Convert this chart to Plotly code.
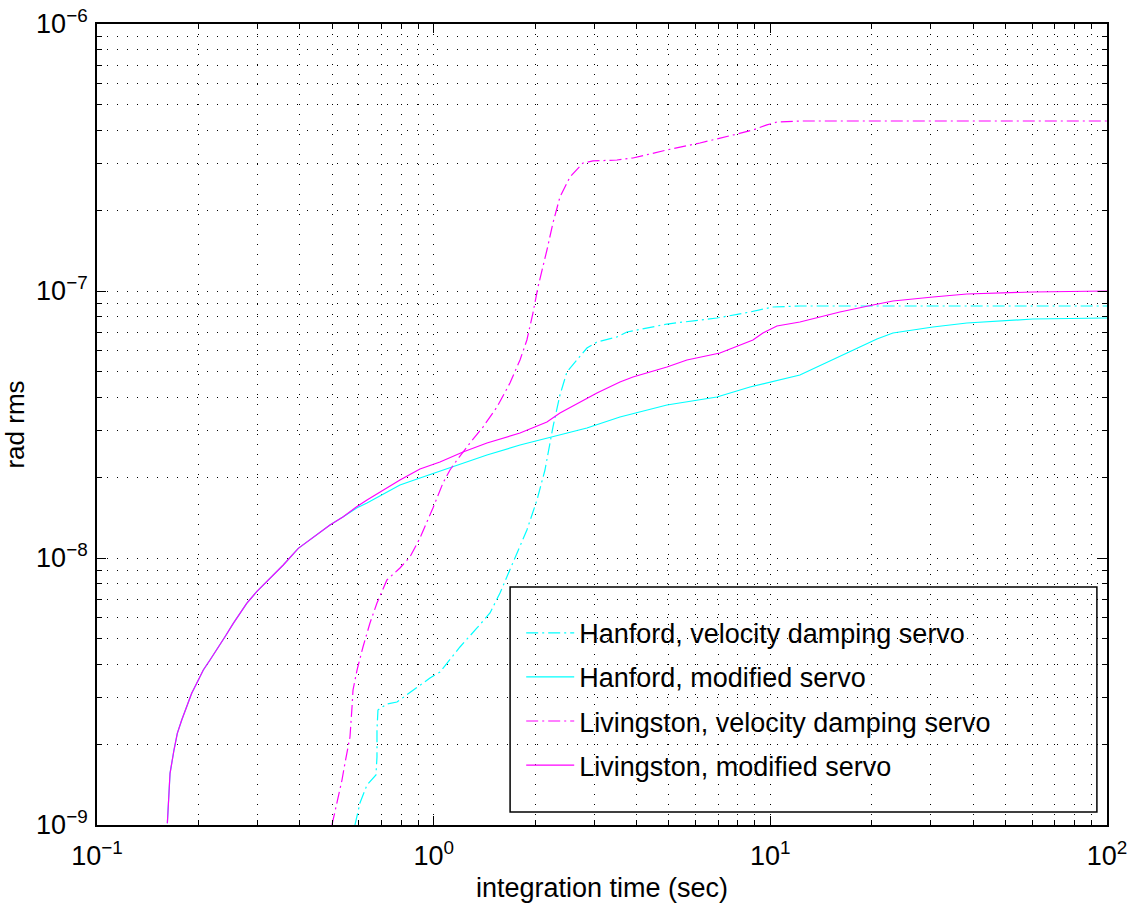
import plotly.graph_objects as go

# ---------------- data ----------------
lm_x = [0.1618, 0.1648, 0.1693, 0.1732, 0.1785, 0.1847, 0.1911, 0.1978, 0.2069, 0.2166,
        0.2267, 0.2400, 0.2540, 0.2784, 0.2981, 0.3265, 0.3575, 0.3962, 0.4493, 0.4920,
        0.5389, 0.5906, 0.6338, 0.7941, 0.9107, 1.044, 1.222, 1.440, 1.805,
        2.170, 2.372, 2.720, 3.055, 3.575, 3.908, 4.931, 5.653, 7.085, 7.744,
        8.878, 9.506, 10.46, 12.24, 16.09, 20.17, 23.13, 30.41, 38.36, 60.25, 100]
lm_y = [1.015e-9, 1.562e-9, 1.909e-9, 2.205e-9, 2.474e-9, 2.774e-9, 3.114e-9, 3.395e-9, 3.806e-9, 4.150e-9,
        4.523e-9, 5.072e-9, 5.692e-9, 6.766e-9, 7.478e-9, 8.395e-9, 9.415e-9, 1.087e-8, 1.220e-8, 1.329e-8,
        1.428e-8, 1.556e-8, 1.649e-8, 1.959e-8, 2.154e-8, 2.289e-8, 2.495e-8, 2.696e-8, 2.939e-8,
        3.231e-8, 3.493e-8, 3.840e-8, 4.150e-8, 4.563e-8, 4.764e-8, 5.193e-8, 5.516e-8, 5.858e-8, 6.116e-8,
        6.554e-8, 6.961e-8, 7.394e-8, 7.653e-8, 8.342e-8, 8.863e-8, 9.173e-8, 9.495e-8, 9.745e-8, 9.915e-8, 1.0e-7]

hm_x = [0.1618, 0.1648, 0.1693, 0.1732, 0.1785, 0.1847, 0.1911, 0.1978, 0.2069, 0.2166,
        0.2267, 0.2400, 0.2540, 0.2784, 0.2981, 0.3265, 0.3575, 0.3962, 0.4493, 0.4920,
        0.5389, 0.5906, 0.6338, 0.7941, 0.9107, 1.142, 1.440, 1.805, 2.261,
        2.852, 3.575, 4.931, 6.940, 8.698, 12.24, 17.59, 20.73, 23.13, 30.41,
        38.36, 60.25, 100]
hm_y = [1.015e-9, 1.562e-9, 1.909e-9, 2.205e-9, 2.474e-9, 2.774e-9, 3.114e-9, 3.395e-9, 3.806e-9, 4.150e-9,
        4.523e-9, 5.072e-9, 5.692e-9, 6.766e-9, 7.478e-9, 8.395e-9, 9.415e-9, 1.087e-8, 1.220e-8, 1.329e-8,
        1.428e-8, 1.540e-8, 1.607e-8, 1.877e-8, 1.993e-8, 2.192e-8, 2.431e-8, 2.650e-8, 2.840e-8,
        3.069e-8, 3.374e-8, 3.741e-8, 4.009e-8, 4.370e-8, 4.846e-8, 6.012e-8, 6.611e-8, 6.961e-8, 7.331e-8,
        7.587e-8, 7.854e-8, 7.922e-8]

hv_x = [0.5838, 0.6040, 0.6338, 0.6739, 0.6786, 0.6786, 0.6832, 0.7263, 0.7780, 0.8679,
        0.9750, 1.044, 1.095, 1.197, 1.345, 1.470, 1.574, 1.720, 1.892, 2.027,
        2.141, 2.261, 2.372, 2.488, 2.665, 2.852, 3.055, 3.503, 3.751, 4.931,
        6.940, 8.698, 10.18, 12.24, 100]
hv_y = [1.0e-9, 1.209e-9, 1.412e-9, 1.539e-9, 1.797e-9, 2.269e-9, 2.696e-9, 2.840e-9, 2.889e-9, 3.204e-9,
        3.552e-9, 3.741e-9, 4.045e-9, 4.642e-9, 5.470e-9, 6.223e-9, 7.393e-9, 9.579e-9, 1.273e-8, 1.649e-8,
        2.136e-8, 3.094e-8, 4.078e-8, 4.974e-8, 5.516e-8, 6.116e-8, 6.442e-8, 6.726e-8, 7.022e-8, 7.521e-8,
        7.922e-8, 8.342e-8, 8.711e-8, 8.787e-8, 8.787e-8]

lv_x = [0.4988, 0.5162, 0.5341, 0.5453, 0.5567, 0.5642, 0.5721, 0.5760, 0.5921, 0.6166,
        0.6469, 0.6786, 0.7263, 0.7941, 0.8504, 0.9107, 0.9952, 1.066, 1.118, 1.173,
        1.282, 1.401, 1.542, 1.685, 1.805, 1.892, 1.972, 2.041, 2.170, 2.261,
        2.372, 2.540, 2.777, 2.973, 3.503, 3.908, 4.931, 6.179, 7.744, 8.878,
        9.768, 10.46, 12.24, 100]
lv_y = [1.0e-9, 1.209e-9, 1.474e-9, 1.707e-9, 1.960e-9, 2.136e-9, 2.767e-9, 3.204e-9, 3.806e-9, 4.642e-9,
        5.709e-9, 6.784e-9, 8.275e-9, 9.173e-9, 1.009e-8, 1.188e-8, 1.539e-8, 1.910e-8, 2.136e-8, 2.328e-8,
        2.696e-8, 3.094e-8, 3.678e-8, 4.523e-8, 5.516e-8, 6.554e-8, 8.271e-8, 1.035e-7, 1.424e-7, 1.798e-7,
        2.250e-7, 2.673e-7, 3.016e-7, 3.069e-7, 3.095e-7, 3.149e-7, 3.375e-7, 3.584e-7, 3.840e-7, 4.009e-7,
        4.188e-7, 4.295e-7, 4.332e-7, 4.332e-7]

series_names = ["Hanford, velocity damping servo", "Hanford, modified servo",
                "Livingston, velocity damping servo", "Livingston, modified servo"]

x_tickvals = [0.1, 1, 10, 100]
x_ticktext = ["10<sup>−1</sup>", "10<sup>0</sup>", "10<sup>1</sup>", "10<sup>2</sup>"]
y_tickvals = [1e-9, 1e-8, 1e-7, 1e-6]
y_ticktext = ["10<sup>−9</sup>", "10<sup>−8</sup>", "10<sup>−7</sup>", "10<sup>−6</sup>"]

# ---------------- figure ----------------
CYAN = "#00FFFF"
MAG = "#FF00FF"
DASHDOT = "12px,4px,2px,4px"
FONT = "Liberation Sans, Arial, Helvetica, sans-serif"

fig = go.Figure()
traces = [
    (hv_x, hv_y, CYAN, DASHDOT),
    (hm_x, hm_y, CYAN, "solid"),
    (lv_x, lv_y, MAG, DASHDOT),
    (lm_x, lm_y, MAG, "solid"),
]
for i, (xs, ys, col, dash) in enumerate(traces):
    fig.add_trace(go.Scatter(x=xs, y=ys, mode="lines", name=series_names[i],
                             legendgroup=f"g{i}",
                             line=dict(color=col, width=1.2, dash=dash)))

grid_common = dict(
    showline=True, linecolor="black", linewidth=1.8, mirror="allticks",
    ticks="inside", ticklen=9, tickcolor="black", tickwidth=1.2,
    showgrid=True, gridcolor="black", gridwidth=1, griddash="1px,9px",
    zeroline=False, automargin=False,
    tickfont=dict(family=FONT, size=27, color="black"),
    minor=dict(dtick="D1", ticks="inside", ticklen=5, tickcolor="black",
               showgrid=True, gridcolor="black", gridwidth=1, griddash="1px,9px"),
)

fig.update_xaxes(type="log", range=[-1, 2], tickvals=x_tickvals, ticktext=x_ticktext,
                 ticklabelstandoff=6,
                 title=dict(text="integration time (sec)",
                            font=dict(family=FONT, size=27, color="black"), standoff=14),
                 **grid_common)
fig.update_yaxes(type="log", range=[-9, -6], tickvals=y_tickvals, ticktext=y_ticktext,
                 ticklabelstandoff=2,
                 title=dict(text="rad rms",
                            font=dict(family=FONT, size=26, color="black"), standoff=6),
                 **grid_common)

# legend box
fig.add_shape(type="rect", xref="paper", yref="paper",
              x0=0.409, x1=0.990, y0=0.0162, y1=0.297,
              line=dict(color="black", width=1.5), fillcolor="rgba(0,0,0,0)", layer="above")

fig.update_layout(
    width=1133, height=903,
    margin=dict(l=97, r=26, t=24, b=78),
    paper_bgcolor="white", plot_bgcolor="white",
    showlegend=True,
    legend=dict(x=0.420, y=0.270, xanchor="left", yanchor="top",
                bgcolor="rgba(0,0,0,0)", borderwidth=0,
                font=dict(family=FONT, size=27, color="black"),
                tracegroupgap=6, itemwidth=48),
    font=dict(family=FONT, color="black"),
)

fig.write_html("out.html")
